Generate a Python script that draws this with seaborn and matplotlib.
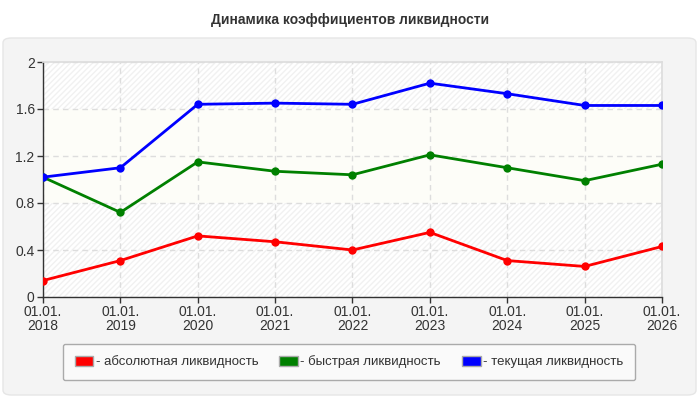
import pandas as pd
import seaborn as sns
import matplotlib.pyplot as plt
import matplotlib.patches as mpatches
from matplotlib.patches import FancyBboxPatch, Rectangle

# Data
dates = ['01.01.\n2018', '01.01.\n2019', '01.01.\n2020', '01.01.\n2021', '01.01.\n2022',
         '01.01.\n2023', '01.01.\n2024', '01.01.\n2025', '01.01.\n2026']
absolute = [0.14, 0.31, 0.52, 0.47, 0.40, 0.55, 0.31, 0.26, 0.43]
quick = [1.02, 0.72, 1.15, 1.07, 1.04, 1.21, 1.10, 0.99, 1.13]
current = [1.02, 1.10, 1.64, 1.65, 1.64, 1.82, 1.73, 1.63, 1.63]
series_names = ['абсолютная ликвидность', 'быстрая ликвидность', 'текущая ликвидность']
colors = ['#ff0000', '#008000', '#0000ff']

df = pd.DataFrame({'x': list(range(len(dates))) * 3,
                   'value': absolute + quick + current,
                   'series': [s for s in series_names for _ in dates]})

sns.set_theme(style='white')
plt.rcParams['font.family'] = ['Liberation Sans', 'DejaVu Sans']

fig = plt.figure(figsize=(7, 4), dpi=100)
fig.patch.set_facecolor('white')

# outer light gray panel
panel = FancyBboxPatch((3 / 700, 5 / 400), 693 / 700, 357 / 400,
                       boxstyle='round,pad=0,rounding_size=0.012',
                       transform=fig.transFigure, facecolor='#f4f4f4',
                       edgecolor='#e6e6e6', linewidth=1, zorder=-10)
fig.patches.append(panel)

fig.text(0.5, 1 - 20 / 400, 'Динамика коэффициентов ликвидности', ha='center', va='center',
         fontsize=10, fontweight='bold', color='#333333')

ax = fig.add_axes([43 / 700, 103 / 400, 619 / 700, 235 / 400])
ax.set_zorder(1)
ax.set_facecolor('white')

# hatched background and the plain band
ax.add_patch(Rectangle((0, 0), 1, 1, transform=ax.transAxes, facecolor='white',
                       edgecolor='#f1f1f1', hatch='//////', linewidth=0, zorder=0))
ax.axhspan(0.8, 1.6, facecolor='#fdfdf8', edgecolor='none', zorder=0.5)

sns.lineplot(data=df, x='x', y='value', hue='series', palette=colors, marker='o',
             markersize=6, markeredgewidth=0, linewidth=2, legend=False, ax=ax, zorder=3)

ax.set_xlim(0, len(dates) - 1)
ax.set_ylim(0, 2)
ax.set_xticks(range(len(dates)))
ax.set_xticklabels(dates, linespacing=0.95)
ax.set_yticks([0, 0.4, 0.8, 1.2, 1.6, 2])
ax.set_yticklabels(['0', '0.4', '0.8', '1.2', '1.6', '2'])
ax.set_xlabel('')
ax.set_ylabel('')
ax.tick_params(axis='both', labelsize=10, colors='#333333', length=4, width=1,
               direction='out', bottom=True, left=True, pad=2)
ax.grid(True, color='#dddddd', linestyle=(0, (4, 3)), linewidth=1)
ax.set_axisbelow(True)
for side in ['top', 'right']:
    ax.spines[side].set_color('#dddddd')
for side in ['left', 'bottom']:
    ax.spines[side].set_color('#333333')
    ax.spines[side].set_linewidth(1)

handles = [mpatches.Patch(facecolor=c, edgecolor='#aaaaaa', label='- ' + n)
           for c, n in zip(colors, series_names)]
leg = fig.legend(handles=handles, loc='center', bbox_to_anchor=(349 / 700, 1 - 362 / 400),
                 ncol=3, frameon=True, fontsize=9.5, handlelength=1.4, handleheight=0.8,
                 handletextpad=0.2, columnspacing=1.6, borderpad=0.9, fancybox=True)
leg.get_frame().set_edgecolor('#aaaaaa')
leg.get_frame().set_facecolor('#fafafa')
leg.get_frame().set_alpha(1)
for t in leg.get_texts():
    t.set_color('#333333')

fig.savefig('out.png', dpi=100)
